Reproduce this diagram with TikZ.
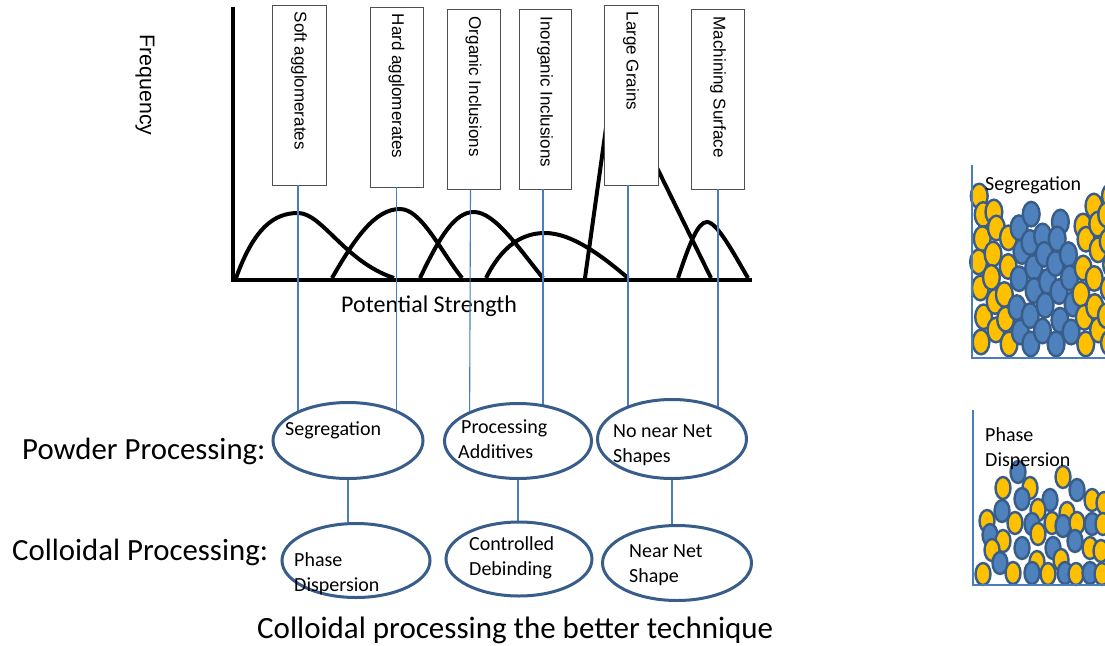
\documentclass[tikz,border=0pt]{standalone}
\usepackage{fontspec}
\setmainfont{Carlito}
\newfontfamily\arialish{Liberation Sans}
\usetikzlibrary{shapes.geometric}
\pgfdeclarelayer{front}
\pgfsetlayers{main,front}
\definecolor{edgeblue}{HTML}{385D8A}
\definecolor{linkblue}{HTML}{4A7EBB}
\definecolor{grainyellow}{HTML}{FFC000}
\definecolor{grainblue}{HTML}{4F81BD}
\definecolor{boxgray}{HTML}{505050}
\begin{document}
\begin{tikzpicture}[x=1pt,y=-1pt,
  curve/.style={line width=4pt, line join=round},
  axisline/.style={line width=4.5pt},
  labelbox/.style={draw=boxgray, line width=0.9pt, fill=white, inner sep=0, rectangle},
  boxtext/.style={rotate=-90, anchor=west, inner sep=0, font=\arialish\fontsize{17}{20}\selectfont},
  link/.style={draw=linkblue, line width=1.1pt},
  oval/.style={ellipse, draw=edgeblue, line width=3pt, fill=white, inner sep=0},
  ovaltext/.style={anchor=base west, align=left, inner sep=0, font=\fontsize{20}{24.5}\selectfont},
  rowlabel/.style={anchor=base west, inner sep=0, font=\fontsize{30.8}{34}\selectfont},
  grainY/.style={fill=grainyellow, draw=edgeblue, line width=2.4pt},
  grainB/.style={fill=grainblue, draw=edgeblue, line width=2.4pt},
  panelline/.style={draw=linkblue, line width=1.3pt}]
\useasboundingbox (0,0) rectangle (1105,645);
\fill[white] (0,0) rectangle (1105,645);

% distribution curves
\draw[curve] (236,278) .. controls (254,228) and (274,213) .. (298,213)
  .. controls (322,213) and (345,262) .. (394,278);
\draw[curve] (332,278) .. controls (355,238) and (375,209) .. (400,209)
  .. controls (421,209) and (440,250) .. (462,278);
\draw[curve] (420,278) .. controls (440,236) and (455,212) .. (474,212)
  .. controls (495,212) and (520,250) .. (543,278);
\draw[curve] (486,278) .. controls (502,246) and (522,233) .. (545,233)
  .. controls (572,233) and (602,256) .. (628,278);
\draw[curve] (585,278) -- (613,78) -- (711,278);
\draw[curve] (678,278) .. controls (690,242) and (698,222) .. (707,222)
  .. controls (717,222) and (734,254) .. (748,278);

% axes
\draw[axisline] (233,7) -- (233,280) -- (752,280);
\node[rotate=-90, inner sep=0, font=\arialish\fontsize{21.3}{24}\selectfont] (freq) at (145,85) {Frequency};
\node[anchor=base west, inner sep=0, font=\fontsize{24}{28}\selectfont] (strength) at (341,312) {Potential Strength};

% defect labels
\node[labelbox, minimum width=54pt, minimum height=180pt] (b1) at (299,95) {};
\node[labelbox, minimum width=53pt, minimum height=180pt] (b2) at (396.5,97) {};
\node[labelbox, minimum width=53pt, minimum height=180pt] (b3) at (473.5,99) {};
\node[labelbox, minimum width=52pt, minimum height=180pt] (b4) at (545,99) {};
\node[labelbox, minimum width=54pt, minimum height=180pt] (b5) at (631,95) {};
\node[labelbox, minimum width=53pt, minimum height=180pt] (b6) at (718,99) {};
\node[boxtext] (t1) at ([yshift=-7pt]b1.north) {Soft agglomerates};
\node[boxtext] (t2) at ([yshift=-7pt]b2.north) {Hard agglomerates};
\node[boxtext] (t3) at ([yshift=-8pt]b3.north) {Organic Inclusions};
\node[boxtext] (t4) at ([yshift=-8pt]b4.north) {Inorganic Inclusions};
\node[boxtext] (t5) at ([yshift=-7pt]b5.north) {Large Grains};
\node[boxtext] (t6) at ([yshift=-8pt]b6.north) {Machining Surface};

% processing outcomes
\begin{pgfonlayer}{front}
\node[oval, minimum width=150pt, minimum height=76pt] (e1) at (348,440.5) {};
\node[oval, minimum width=147pt, minimum height=75pt] (e2) at (518,441) {};
\node[oval, minimum width=149pt, minimum height=79pt] (e3) at (672,439) {};
\node[oval, minimum width=148pt, minimum height=74pt] (c1) at (356,560.5) {};
\node[oval, minimum width=146pt, minimum height=74pt] (c2) at (519,559) {};
\node[oval, minimum width=149pt, minimum height=75pt] (c3) at (677,563) {};
% multi-line texts are anchored at the baseline of their last line
\node[ovaltext] (e1t) at (285,435) {Segregation};
\node[ovaltext] (e2t) at (458,458) {\hspace*{3pt}Processing\\Additives};
\node[ovaltext] (e3t) at (613,462) {No near Net\\Shapes};
\node[ovaltext] (c1t) at (294,591) {Phase\\Dispersion};
\node[ovaltext] (c2t) at (469,575) {Controlled\\Debinding};
\node[ovaltext] (c3t) at (629,582) {Near Net\\Shape};
\end{pgfonlayer}

\node[rowlabel] (powder) at (22,459) {Powder Processing:};
\node[rowlabel] (colloid) at (12,560) {Colloidal Processing:};
\node[anchor=base west, inner sep=0, font=\fontsize{31}{35}\selectfont] (verdict) at (257,638) {Colloidal processing the better technique};

% connectors
\draw[link] ([xshift=-1pt]b1.south) -- ([xshift=-1pt]b1.south |- e1.center);
\draw[link] (b2.south) -- (b2.south |- e1.center);
\draw[link] ([xshift=-3pt]b3.south) -- ([xshift=-4pt]b3.south |- e2.center);
\draw[link] ([xshift=-2pt]b4.south) -- ([xshift=-2pt]b4.south |- e2.center);
\draw[link] ([xshift=-3pt]b5.south) -- ([xshift=-3pt]b5.south |- e3.center);
\draw[link] (b6.south) -- (b6.south |- e3.center);
\draw[link] (e1.south) -- (e1.south |- c1.north);
\draw[link] (e2.south) -- (e2.south |- c2.north);
\draw[link] (e3.south) -- (e3.south |- c3.north);

% segregated particle bed
\begin{scope}
\clip (0,0) rectangle (1105,645);
\foreach \i/\st/\top/\bot in {0/grainY/196/342, 1/grainY/212/330, 2/grainY/232/344, 3/grainB/222/332,
    4/grainB/208/344, 5/grainB/236/331, 6/grainB/222/344, 7/grainB/248/332, 8/grainY/226/344,
    9/grainY/206/330, 10/grainY/196/343} {
  \foreach \k in {6,5,...,0} {
    \pgfmathsetmacro\cy{\bot-26*\k}
    \pgfmathsetmacro\cx{981+12.8*\i+2.6*sin(97*\k+53*\i)}
    \pgfmathsetmacro\dy{(\k>0)*2.5*cos(71*\k+113*\i)}
    \ifdim\cy pt>\top pt
      \draw[\st] (\cx,\cy+\dy) ellipse [x radius=8.4, y radius=12.3];
    \else
      \ifdim\cy pt>\numexpr\top-14\relax pt
        \draw[\st] (\cx,\top) ellipse [x radius=8.4, y radius=12.3];
      \fi
    \fi
  }
}
% dispersed particle bed
\foreach \px/\py/\st in {1018/472/grainB, 1063/477/grainY, 1003/488/grainY, 1030/488/grainY,
    1077/490/grainB, 1022/499/grainB, 1050/500/grainB, 1092/500/grainY, 1104/503/grainY,
    1002/511/grainB, 1038/510/grainY, 1067/513/grainY, 987/521/grainY, 1015/523/grainY,
    1032/524/grainB, 1052/523/grainY, 1063/526/grainB, 1077/523/grainY, 1092/524/grainB,
    1103/524/grainY, 990/535/grainB, 1038/534/grainY, 1003/541/grainY, 1075/541/grainB,
    992/550/grainY, 1022/548/grainB, 1053/548/grainB, 1090/548/grainY, 1101/551/grainY,
    1000/563/grainB, 1037/562/grainY, 1061/560/grainY, 983/574/grainY, 1013/573/grainY,
    1032/573/grainB, 1048/574/grainY, 1065/573/grainB, 1076/574/grainY, 1090/573/grainB,
    1102/574/grainY} {
  \draw[\st] (\px,\py) ellipse [x radius=7.5, y radius=11];
}
\end{scope}

% panel frames and captions
\draw[panelline] (972,165) -- (972,358) -- (1105,358);
\draw[panelline] (973,410) -- (973,585) -- (1105,585);
\node[anchor=base west, inner sep=0, font=\fontsize{20}{24}\selectfont] (segcap) at (985,190) {Segregation};
\node[anchor=base west, align=left, inner sep=0, font=\fontsize{20}{24.5}\selectfont] (dispcap) at (985,466) {Phase\\Dispersion};
\end{tikzpicture}
\end{document}
